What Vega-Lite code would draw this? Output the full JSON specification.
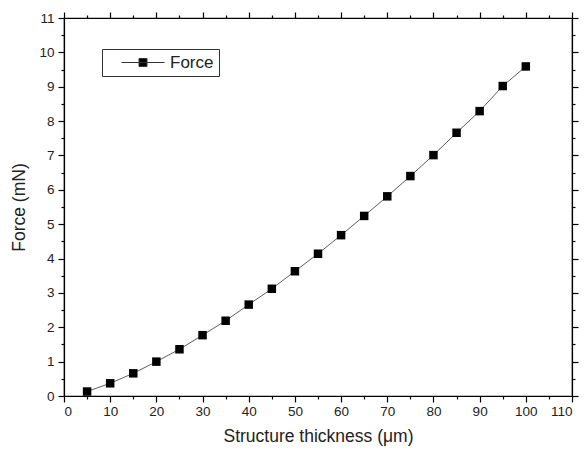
{
  "$schema": "https://vega.github.io/schema/vega-lite/v6.json",
  "width": 508,
  "height": 378,
  "autosize": {"type": "none"},
  "padding": {"left": 64, "top": 18, "right": 12, "bottom": 54},
  "background": "white",
  "config": {
    "font": "Liberation Sans",
    "view": {"stroke": "black", "strokeWidth": 1.2},
    "axis": {
      "labelFont": "Liberation Sans",
      "titleFont": "Liberation Sans",
      "labelFontSize": 13.5,
      "titleFontSize": 17.5,
      "titleFontWeight": "normal",
      "labelColor": "#222",
      "titleColor": "#222",
      "grid": false,
      "domainColor": "black",
      "domainWidth": 1.2,
      "tickColor": "black",
      "tickWidth": 1.2,
      "tickSize": 6
    }
  },
  "data": {
    "values": [
      {"t": 5, "f": 0.13, "s": "Force"},
      {"t": 10, "f": 0.37, "s": "Force"},
      {"t": 15, "f": 0.66, "s": "Force"},
      {"t": 20, "f": 1.0, "s": "Force"},
      {"t": 25, "f": 1.36, "s": "Force"},
      {"t": 30, "f": 1.77, "s": "Force"},
      {"t": 35, "f": 2.19, "s": "Force"},
      {"t": 40, "f": 2.66, "s": "Force"},
      {"t": 45, "f": 3.12, "s": "Force"},
      {"t": 50, "f": 3.63, "s": "Force"},
      {"t": 55, "f": 4.14, "s": "Force"},
      {"t": 60, "f": 4.68, "s": "Force"},
      {"t": 65, "f": 5.24, "s": "Force"},
      {"t": 70, "f": 5.81, "s": "Force"},
      {"t": 75, "f": 6.4, "s": "Force"},
      {"t": 80, "f": 7.01, "s": "Force"},
      {"t": 85, "f": 7.66, "s": "Force"},
      {"t": 90, "f": 8.29, "s": "Force"},
      {"t": 95, "f": 9.02, "s": "Force"},
      {"t": 100, "f": 9.59, "s": "Force"}
    ]
  },
  "layer": [
    {
      "mark": {"type": "line", "color": "#333", "strokeWidth": 0.8},
      "encoding": {
        "x": {"field": "t", "type": "quantitative", "scale": {"domain": [0, 110], "nice": false},
          "axis": {"orient": "top", "values": [0,5,10,15,20,25,30,35,40,45,50,55,60,65,70,75,80,85,90,95,100,105,110], "labels": false, "title": null,
            "tickDash": {"condition": {"test": "datum.value % 10 === 0", "value": [6, 0]}, "value": [3, 3]}}},
        "y": {"field": "f", "type": "quantitative", "scale": {"domain": [0, 11], "nice": false},
          "axis": {"orient": "right", "values": [0,0.5,1,1.5,2,2.5,3,3.5,4,4.5,5,5.5,6,6.5,7,7.5,8,8.5,9,9.5,10,10.5,11], "labels": false, "title": null,
            "tickDash": {"condition": {"test": "datum.value % 1 === 0", "value": [6, 0]}, "value": [3, 3]}}}
      }
    },
    {
      "mark": {"type": "point", "shape": "square", "filled": true, "size": 72, "opacity": 1, "color": "black"},
      "encoding": {
        "x": {"field": "t", "type": "quantitative", "scale": {"domain": [0, 110], "nice": false},
          "axis": {"orient": "bottom", "values": [0,5,10,15,20,25,30,35,40,45,50,55,60,65,70,75,80,85,90,95,100,105,110],
            "labelExpr": "datum.value % 10 === 0 ? datum.label : ''", "title": "Structure thickness (\u03bcm)", "labelPadding": 2, "titlePadding": 10,
            "tickDash": {"condition": {"test": "datum.value % 10 === 0", "value": [6, 0]}, "value": [3, 3]}}},
        "y": {"field": "f", "type": "quantitative", "scale": {"domain": [0, 11], "nice": false},
          "axis": {"orient": "left", "values": [0,0.5,1,1.5,2,2.5,3,3.5,4,4.5,5,5.5,6,6.5,7,7.5,8,8.5,9,9.5,10,10.5,11],
            "labelExpr": "datum.value % 1 === 0 ? format(datum.value, 'd') : ''", "title": "Force (mN)", "labelPadding": 4, "titlePadding": 10,
            "tickDash": {"condition": {"test": "datum.value % 1 === 0", "value": [6, 0]}, "value": [3, 3]}}},
        "color": {"field": "s", "type": "nominal", "scale": {"range": ["black"]},
          "legend": {"title": null, "orient": "none", "legendX": 38, "legendY": 31,
            "strokeColor": "#333", "fillColor": "white", "padding": 5,
            "symbolType": "M0.86,0H7M3.36,-0.57H4.5V0.57H3.36Z",
            "symbolSize": 196, "symbolStrokeWidth": 1, "symbolStrokeColor": "#333", "symbolFillColor": "black",
            "labelFont": "Liberation Sans", "labelFontSize": 17, "labelColor": "#222", "labelOffset": 46}}
      }
    }
  ],
  "resolve": {"axis": {"x": "independent", "y": "independent"}}
}
